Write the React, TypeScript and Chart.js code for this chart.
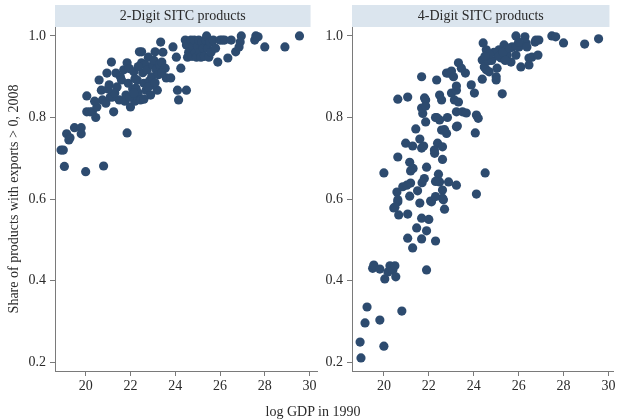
import React, { useEffect, useRef } from "react";
import { Chart, registerables } from "chart.js";

Chart.register(...registerables);

const panelTitles = ["2-Digit SITC products", "4-Digit SITC products"];
const xTickValues = [20, 22, 24, 26, 28, 30];
const yTickValues = [0.2, 0.4, 0.6, 0.8, 1.0];
const yAxisTitle = "Share of products with exports > 0, 2008";
const xAxisTitle = "log GDP in 1990";

// [log GDP 1990, share of products exported 2008]
const twoDigitPoints: [number, number][] = [
  [18.9, 0.72], [19.0, 0.72], [19.05, 0.68], [19.15, 0.76], [19.3, 0.75], [19.25, 0.745],
  [19.5, 0.775], [19.8, 0.775], [19.8, 0.76], [20.0, 0.667], [20.05, 0.853], [20.05, 0.814],
  [20.2, 0.814], [20.3, 0.814], [20.45, 0.8], [20.5, 0.826], [20.6, 0.892], [20.7, 0.867],
  [20.75, 0.843], [20.8, 0.681], [20.9, 0.835], [20.95, 0.909], [21.05, 0.88], [21.1, 0.85],
  [21.15, 0.936], [21.2, 0.85], [21.25, 0.814], [21.35, 0.909], [21.4, 0.875], [21.5, 0.843],
  [21.55, 0.9], [21.6, 0.892], [21.7, 0.917], [21.75, 0.84], [21.8, 0.855], [21.85, 0.762],
  [21.85, 0.934], [21.9, 0.884], [21.95, 0.92], [22.0, 0.826], [22.05, 0.85], [22.1, 0.87],
  [22.15, 0.912], [22.2, 0.84], [22.25, 0.872], [22.3, 0.892], [22.35, 0.86], [22.4, 0.961],
  [22.45, 0.843], [22.5, 0.961], [22.5, 0.934], [22.55, 0.91], [22.6, 0.884], [22.65, 0.93],
  [22.7, 0.867], [22.75, 0.917], [22.8, 0.948], [22.85, 0.89], [22.9, 0.855], [22.95, 0.9],
  [23.0, 0.929], [23.05, 0.94], [23.1, 0.961], [23.15, 0.917], [23.2, 0.867], [23.25, 0.905],
  [23.3, 0.93], [23.35, 0.985], [23.4, 0.936], [23.45, 0.96], [23.55, 0.921], [23.6, 0.897],
  [23.8, 0.897], [23.9, 0.973], [24.05, 0.948], [24.1, 0.867], [24.15, 0.843], [24.25, 0.921],
  [24.5, 0.867], [24.45, 0.99], [24.5, 0.978], [24.55, 0.948], [24.6, 0.96], [24.7, 0.99],
  [24.75, 0.95], [24.8, 0.975], [24.85, 0.99], [24.9, 0.96], [24.95, 0.948], [25.0, 0.975],
  [25.05, 0.99], [25.1, 0.96], [25.15, 0.948], [25.2, 0.985], [25.25, 0.97], [25.3, 0.95],
  [25.35, 0.99], [25.4, 1.0], [25.45, 0.97], [25.5, 0.948], [25.55, 0.985], [25.6, 0.96],
  [25.7, 0.99], [25.8, 0.97], [25.9, 0.936], [26.0, 0.99], [26.1, 0.99], [26.2, 0.99],
  [26.35, 0.946], [26.5, 0.99], [26.7, 0.961], [26.85, 0.973], [26.95, 1.0], [26.9, 0.985],
  [27.55, 0.99], [27.6, 1.0], [27.7, 0.998], [28.0, 0.973], [28.9, 0.973], [29.55, 1.0],
  [21.95, 0.85], [22.15, 0.86], [22.6, 0.845], [22.2, 0.895], [23.0, 0.88], [22.35, 0.925],
  [22.8, 0.875], [23.1, 0.885], [23.4, 0.91], [21.3, 0.86], [21.0, 0.87], [20.4, 0.84],
];

const fourDigitPoints: [number, number][] = [
  [18.98, 0.21], [18.94, 0.249], [19.16, 0.296], [19.25, 0.335], [19.82, 0.303], [20.0, 0.239],
  [19.5, 0.43], [19.55, 0.438], [19.82, 0.428], [20.04, 0.404], [20.18, 0.421], [20.27, 0.436],
  [20.4, 0.426], [20.49, 0.436], [20.53, 0.409], [20.8, 0.325], [21.9, 0.426], [20.44, 0.578],
  [20.66, 0.561], [21.06, 0.563], [21.06, 0.504], [21.28, 0.48], [21.46, 0.529], [21.68, 0.553],
  [21.68, 0.502], [21.9, 0.522], [22.3, 0.497], [22.7, 0.575], [22.12, 0.593], [21.6, 0.59],
  [20.62, 0.593], [22.65, 0.598], [20.0, 0.664], [20.62, 0.703], [20.58, 0.617], [20.62, 0.598],
  [20.49, 0.58], [20.84, 0.63], [21.02, 0.634], [21.19, 0.639], [21.19, 0.669], [21.15, 0.607],
  [20.97, 0.737], [21.42, 0.772], [21.28, 0.73], [21.6, 0.747], [21.68, 0.725], [21.77, 0.73],
  [21.9, 0.678], [22.08, 0.595], [22.26, 0.712], [22.39, 0.737], [22.61, 0.728], [22.43, 0.661],
  [22.48, 0.642], [22.61, 0.622], [22.61, 0.602], [22.88, 0.642], [23.23, 0.634], [22.61, 0.697],
  [22.57, 0.769], [22.79, 0.761], [22.83, 0.8], [22.35, 0.8], [22.48, 0.794], [21.86, 0.789],
  [21.73, 0.81], [21.68, 0.823], [21.86, 0.843], [21.86, 0.828], [21.81, 0.848], [20.62, 0.845],
  [21.06, 0.85], [21.68, 0.9], [22.35, 0.892], [22.48, 0.855], [22.57, 0.843], [22.79, 0.909],
  [22.88, 0.909], [23.01, 0.914], [23.1, 0.9], [23.01, 0.86], [23.23, 0.867], [23.14, 0.843],
  [23.32, 0.838], [23.23, 0.814], [23.5, 0.814], [23.67, 0.811], [23.23, 0.777], [23.27, 0.779],
  [23.23, 0.877], [23.32, 0.934], [23.45, 0.921], [23.63, 0.909], [23.89, 0.88], [24.03, 0.86],
  [24.12, 0.806], [24.2, 0.798], [24.07, 0.762], [24.51, 0.664], [24.12, 0.612], [24.42, 0.983],
  [24.56, 0.966], [24.38, 0.941], [24.38, 0.894], [24.47, 0.924], [24.56, 0.917], [24.69, 0.912],
  [24.65, 0.939], [25.0, 0.9], [25.0, 0.892], [25.04, 0.921], [25.27, 0.858], [25.13, 0.966],
  [25.22, 0.946], [25.35, 0.978], [25.44, 0.966], [25.49, 0.953], [25.66, 0.936], [25.71, 0.973],
  [25.88, 1.0], [25.88, 0.953], [26.02, 0.973], [26.1, 0.924], [26.28, 0.998], [26.33, 0.983],
  [26.37, 0.973], [26.46, 0.929], [26.46, 0.946], [26.59, 0.948], [26.73, 0.985], [26.77, 0.99],
  [26.86, 0.953], [26.9, 0.99], [27.48, 1.0], [27.65, 0.998], [28.0, 0.983], [28.94, 0.98],
  [29.56, 0.993], [22.3, 0.8], [22.7, 0.77], [22.3, 0.643], [22.3, 0.606], [21.8, 0.65],
  [21.5, 0.62], [21.7, 0.64], [21.15, 0.69], [22.0, 0.55], [21.3, 0.675], [22.25, 0.72],
  [24.8, 0.94], [24.9, 0.96], [25.1, 0.95], [24.7, 0.955], [25.3, 0.96], [25.6, 0.97],
  [25.9, 0.975], [26.0, 0.985], [25.4, 0.94], [24.5, 0.95],
];

const DOT = "#2d4b6f";
const HEADER_BG = "#dbe5ee";
const AXIS = "#7a7a7a";
const TEXT = "#2a2a2a";
const SERIF = "'Liberation Serif', 'DejaVu Serif', serif";

const headerPlugin = {
  id: "header",
  beforeDraw(chart: any, _args: any, opts: any) {
    const { ctx, chartArea } = chart;
    const xs = chart.scales.x;
    const left = chartArea.left;
    const right = xs.getPixelForValue(30) + 1;
    ctx.save();
    ctx.fillStyle = HEADER_BG;
    ctx.fillRect(left, 5, right - left, 22);
    ctx.fillStyle = TEXT;
    ctx.font = `14px ${SERIF}`;
    ctx.textAlign = "center";
    ctx.textBaseline = "middle";
    ctx.fillText(opts.text, (left + right) / 2, 16.5);
    ctx.restore();
  },
};

function makeConfig(
  points: [number, number][],
  title: string,
  showYTitle: boolean,
  yWidth: number,
  xMin: number,
  xMax: number,
  padRight: number
): any {
  return {
    type: "scatter",
    data: {
      datasets: [
        {
          data: points.map(([x, y]) => ({ x, y })),
          backgroundColor: DOT,
          borderColor: DOT,
          borderWidth: 0,
          pointRadius: 4.6,
          pointHoverRadius: 4.6,
        },
      ],
    },
    plugins: [headerPlugin],
    options: {
      responsive: false,
      maintainAspectRatio: false,
      animation: false,
      layout: { padding: { top: 27, right: padRight, left: 0, bottom: 0 } },
      plugins: {
        legend: { display: false },
        tooltip: { enabled: false },
        header: { text: title },
      },
      scales: {
        x: {
          type: "linear",
          min: xMin,
          max: xMax,
          afterBuildTicks: (s: any) => {
            s.ticks = xTickValues.map((v) => ({ value: v }));
          },
          afterFit: (s: any) => {
            s.height = 49;
          },
          ticks: {
            color: TEXT,
            font: { family: SERIF, size: 14 },
            padding: 2,
            maxRotation: 0,
            callback: (v: any) => String(v),
          },
          grid: { display: true, drawOnChartArea: false, drawTicks: true, tickLength: 5, color: AXIS },
          border: { display: true, color: AXIS, width: 1 },
        },
        y: {
          type: "linear",
          min: 0.178,
          max: 1.022,
          afterBuildTicks: (s: any) => {
            s.ticks = yTickValues.map((v) => ({ value: v }));
          },
          afterFit: (s: any) => {
            s.width = yWidth;
          },
          ticks: {
            color: TEXT,
            font: { family: SERIF, size: 14 },
            padding: 4,
            callback: (v: any) => Number(v).toFixed(1),
          },
          title: {
            display: showYTitle,
            text: yAxisTitle,
            color: TEXT,
            font: { family: SERIF, size: 14 },
            padding: { top: 6, bottom: 0 },
          },
          grid: { display: true, drawOnChartArea: false, drawTicks: true, tickLength: 5, color: AXIS },
          border: { display: true, color: AXIS, width: 1 },
        },
      },
    },
  };
}

export default function App() {
  const leftRef = useRef<HTMLCanvasElement | null>(null);
  const rightRef = useRef<HTMLCanvasElement | null>(null);

  useEffect(() => {
    const c1 = new Chart(
      leftRef.current as HTMLCanvasElement,
      makeConfig(twoDigitPoints, panelTitles[0], true, 55, 18.63, 30.35, 2)
    );
    const c2 = new Chart(
      rightRef.current as HTMLCanvasElement,
      makeConfig(fourDigitPoints, panelTitles[1], false, 30, 18.58, 30.22, 3)
    );
    return () => {
      c1.destroy();
      c2.destroy();
    };
  }, []);

  return (
    <div
      style={{
        position: "absolute",
        left: 0,
        top: 0,
        width: 618,
        height: 420,
        background: "#ffffff",
        overflow: "hidden",
      }}
    >
      <canvas
        ref={leftRef}
        width={322}
        height={420}
        style={{ position: "absolute", left: 0, top: 0, width: 322, height: 420 }}
      />
      <canvas
        ref={rightRef}
        width={296}
        height={420}
        style={{ position: "absolute", left: 322, top: 0, width: 296, height: 420 }}
      />
      <div
        style={{
          position: "absolute",
          left: 213,
          top: 403,
          width: 200,
          textAlign: "center",
          fontFamily: SERIF,
          fontSize: 14,
          lineHeight: "17px",
          color: TEXT,
        }}
      >
        {xAxisTitle}
      </div>
    </div>
  );
}
